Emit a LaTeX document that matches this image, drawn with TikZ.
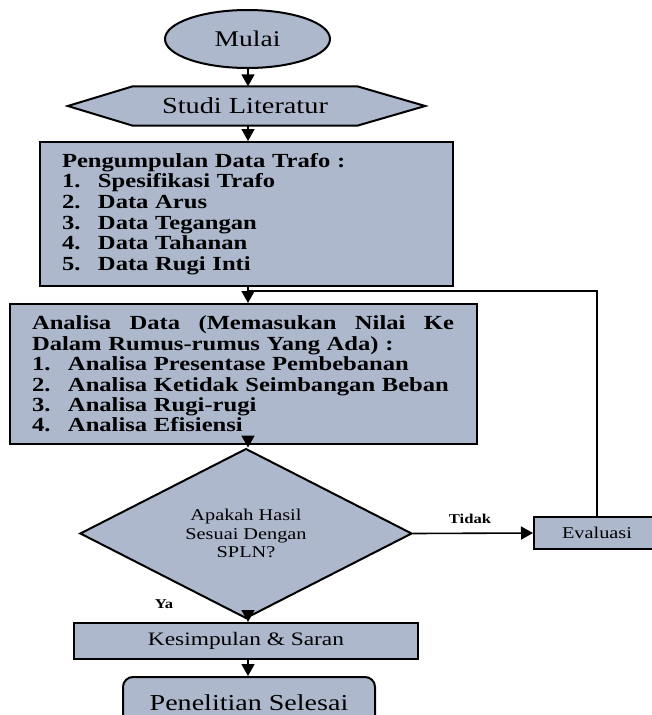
\documentclass[tikz,border=0pt]{standalone}
\usepackage{fontspec}
\setmainfont{Liberation Serif}[FakeStretch=1.23]
\usetikzlibrary{shapes.geometric,arrows.meta,backgrounds,calc}
\definecolor{boxfill}{RGB}{173,184,204}
\begin{document}
\begin{tikzpicture}[x=1pt,y=-1pt,
  box/.style={draw=black, line width=2pt, fill=boxfill},
  arr/.style={line width=1.6pt, -{Triangle[length=12pt,width=13pt]}},
  conn/.style={line width=1.6pt},
  lbl/.style={inner sep=0pt, font=\bfseries\fontsize{13.5}{15}\selectfont}
]
\useasboundingbox (0,0) rectangle (651,715);
\coordinate (axis) at (248,0);

\node[box, ellipse, minimum width=165pt, minimum height=58pt, inner sep=0pt,
  font=\fontsize{22.4}{26}\selectfont] (mulai) at (247.5,39) {\raisebox{-2pt}{Mulai}};

\node[minimum width=224pt, minimum height=39pt, inner sep=0pt,
  font=\fontsize{23}{27}\selectfont] (studi) at (245,106) {\raisebox{-2pt}{Studi Literatur}};
\begin{scope}[on background layer]
\draw[box] (studi.north west) -- (studi.north east) -- ($(studi.east)+(68,0)$)
  -- (studi.south east) -- (studi.south west) -- ($(studi.west)+(-65,0)$) -- cycle;
\end{scope}

\node[box, text width=369pt, inner xsep=22pt, inner ysep=0pt, minimum height=144pt,
  align=left, font=\bfseries\fontsize{20}{20.6}\selectfont] (data) at (246.5,214)
  {Pengumpulan Data Trafo :\\
   \makebox[36pt][l]{1.}Spesifikasi Trafo\\
   \makebox[36pt][l]{2.}Data Arus\\
   \makebox[36pt][l]{3.}Data Tegangan\\
   \makebox[36pt][l]{4.}Data Tahanan\\
   \makebox[36pt][l]{5.}Data Rugi Inti};

\node[box, text width=423pt, inner xsep=22pt, inner ysep=0pt, minimum height=140pt,
  align=left, font=\bfseries\fontsize{20}{20.4}\selectfont] (analisa) at (243.5,374)
  {\makebox[422pt][l]{Analisa\hfill Data\hfill (Memasukan\hfill Nilai\hfill Ke}\\
   Dalam Rumus-rumus Yang Ada) :\\
   \makebox[36pt][l]{1.}Analisa Presentase Pembebanan\\
   \makebox[36pt][l]{2.}Analisa Ketidak Seimbangan Beban\\
   \makebox[36pt][l]{3.}Analisa Rugi-rugi\\
   \makebox[36pt][l]{4.}Analisa Efisiensi};

\node[box, diamond, minimum width=332pt, minimum height=143pt, inner sep=0pt,
  align=center, font=\fontsize{16.5}{18.5}\selectfont] (dec) at (246,533.5)
  {Apakah Hasil\\Sesuai Dengan\\SPLN?};

\node[box, minimum width=126pt, minimum height=32pt, inner sep=0pt,
  font=\fontsize{16.5}{19}\selectfont] (eval) at (597,533) {Evaluasi};

\node[box, minimum width=344pt, minimum height=36pt, inner sep=0pt,
  font=\fontsize{19}{22}\selectfont] (kes) at (246,641) {\raisebox{-3pt}{Kesimpulan \& Saran}};

\node[box, rounded corners=10pt, minimum width=252pt, minimum height=60pt, inner sep=0pt,
  font=\fontsize{22.8}{26}\selectfont] (selesai) at (249,707) {\raisebox{9pt}{Penelitian Selesai}};

\node[lbl, anchor=base] (tidak) at (470,523) {Tidak};
\node[lbl, anchor=base] (ya) at (164,608) {Ya};

\coordinate (junc) at (248,291);

\draw[arr] (axis |- mulai.south) -- (axis |- studi.north);
\draw[arr] (axis |- studi.south) -- (axis |- data.north);
\draw[arr] (axis |- data.south) -- (axis |- analisa.north);
\draw[conn] (eval.north) |- (junc);
\draw[arr] (axis |- analisa.south) -- (axis |- dec.north);
\draw[arr] (dec.east) -- (eval.west);
\draw[arr] (axis |- dec.south) -- (axis |- kes.north);
\draw[arr] (axis |- kes.south) -- (axis |- selesai.north);
\end{tikzpicture}
\end{document}
